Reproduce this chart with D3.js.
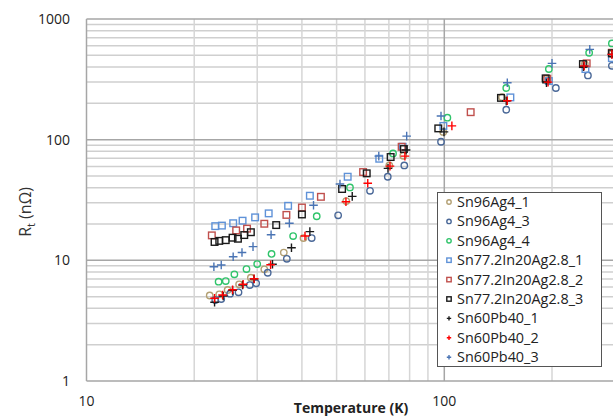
<!DOCTYPE html>
<html>
<head>
<meta charset="utf-8">
<script src="https://cdn.jsdelivr.net/npm/d3@7"></script>
<style>
  body { margin: 0; background: #fff; overflow: hidden; }
  svg { display: block; }
  text { font-family: "Open Sans", "Noto Sans", sans-serif; }
</style>
</head>
<body>
<script>
// temperatures (K) and resistances (nOhm) per sample
var sn96ag4_1_T = [22.1, 23.5, 24.8, 26.7, 28.8, 31.4, 35.6, 40.4, 53.2, 70.2, 76.8, 99.3, 145, 192, 247, 294];
var sn96ag4_1_R = [5.11, 5.23, 5.68, 6.33, 7.18, 8.42, 11.6, 15.3, 31.0, 61.2, 73.6, 116, 225, 318, 423, 512];

var sn96ag4_3_T = [22.9, 23.8, 25.2, 26.6, 28.6, 29.8, 32.1, 36.3, 42.6, 50.5, 62.0, 69.5, 77.3, 97.9, 149, 205, 252, 294];
var sn96ag4_3_R = [4.69, 4.78, 5.29, 5.43, 6.24, 6.45, 7.89, 10.3, 15.3, 23.6, 37.7, 49.3, 61.2, 96.1, 177, 268, 341, 409];

var sn96ag4_4_T = [23.4, 24.5, 25.9, 28.0, 30.0, 32.9, 37.8, 44.0, 54.5, 71.9, 102, 149, 196, 254, 294];
var sn96ag4_4_R = [6.65, 6.73, 7.66, 8.47, 9.31, 11.3, 15.9, 23.2, 40.2, 76.9, 152, 268, 385, 525, 628];

var sn77_1_T = [22.9, 23.9, 25.7, 27.3, 29.6, 32.3, 36.6, 42.1, 53.7, 65.8, 76.5, 99.4, 153, 196, 248, 294];
var sn77_1_R = [19.2, 19.4, 20.3, 21.3, 22.7, 24.5, 28.3, 34.3, 49.3, 69.5, 87.3, 130, 224, 306, 385, 474];

var sn77_2_T = [22.4, 26.2, 28.1, 31.4, 36.2, 40.0, 45.2, 59.3, 76.0, 118.5, 194, 250, 294];
var sn77_2_R = [16.1, 17.7, 18.3, 20.1, 23.8, 27.4, 33.6, 53.9, 87.3, 169, 320, 429, 525];

var sn77_3_T = [22.8, 23.5, 24.5, 25.6, 26.5, 27.6, 28.8, 33.9, 40.0, 51.8, 60.7, 70.8, 77.1, 96.2, 144, 192, 244, 294];
var sn77_3_R = [14.2, 14.5, 14.7, 15.4, 15.1, 16.2, 17.1, 19.6, 24.0, 39.0, 52.6, 71.8, 83.6, 124, 222, 322, 423, 519];

var sn60pb40_1_T = [22.8, 24.1, 25.6, 27.3, 29.4, 33.1, 37.4, 42.1, 55.3, 69.6, 78.2, 99.8, 149, 193, 245, 294];
var sn60pb40_1_R = [4.49, 5.06, 5.64, 6.24, 7.0, 9.27, 12.7, 17.3, 33.9, 57.8, 82.0, 116, 209, 296, 402, 512];

var sn60pb40_2_T = [22.8, 24.0, 25.6, 27.4, 29.4, 32.7, 40.8, 53.1, 61.1, 70.5, 77.6, 105, 150, 195, 246, 294];
var sn60pb40_2_R = [4.85, 5.16, 5.71, 6.33, 7.04, 9.2, 15.9, 30.6, 43.5, 60.4, 73.1, 130, 210, 300, 409, 509];

var sn60pb40_3_T = [22.7, 23.8, 25.7, 27.2, 29.2, 32.8, 36.9, 43.1, 51.1, 65.6, 78.5, 97.9, 150, 200, 255];
var sn60pb40_3_R = [8.85, 9.15, 10.7, 11.6, 13.0, 16.3, 20.3, 28.6, 42.9, 73.1, 107, 157, 296, 429, 560];

var seriesNames = ['Sn96Ag4_1', 'Sn96Ag4_3', 'Sn96Ag4_4', 'Sn77.2In20Ag2.8_1', 'Sn77.2In20Ag2.8_2',
  'Sn77.2In20Ag2.8_3', 'Sn60Pb40_1', 'Sn60Pb40_2', 'Sn60Pb40_3'];
var seriesT = [sn96ag4_1_T, sn96ag4_3_T, sn96ag4_4_T, sn77_1_T, sn77_2_T, sn77_3_T, sn60pb40_1_T, sn60pb40_2_T, sn60pb40_3_T];
var seriesR = [sn96ag4_1_R, sn96ag4_3_R, sn96ag4_4_R, sn77_1_R, sn77_2_R, sn77_3_R, sn60pb40_1_R, sn60pb40_2_R, sn60pb40_3_R];
var seriesShape = ['circle', 'circle', 'circle', 'square', 'square', 'square', 'plus', 'plus', 'plus'];
var seriesColor = ['#b3a073', '#4a6898', '#2fc46a', '#5f92d8', '#c0504d', '#1a1a1a', '#1a1a1a', '#ff0000', '#4a74b4'];

var xTicks = [10, 100, 1000];
var xTickLabels = [10, 100];
var yTicks = [1, 10, 100, 1000];

var W = 613, H = 417;
var svg = d3.select('body').append('svg')
  .attr('width', W)
  .attr('height', H);

// plot runs past the right edge of the picture, like the cropped original
var x = d3.scaleLog().domain([10, 1000]).range([86.5, 86.5 + 2 * 357.8]);
var y = d3.scaleLog().domain([1, 1000]).range([381, 19]);

var minor = function(lo, hi) {
  var out = [];
  for (var d = lo; d < hi; d *= 10) {
    for (var k = 2; k <= 9; k++) out.push(d * k);
  }
  return out;
};

var grid = svg.append('g');

grid.selectAll('.hmin').data(minor(1, 1000)).enter().append('line')
  .attr('x1', x(10)).attr('x2', W)
  .attr('y1', function(d) { return y(d); })
  .attr('y2', function(d) { return y(d); })
  .attr('stroke', '#cfcfcf').attr('stroke-width', 1.5);

grid.selectAll('.vmin').data(minor(10, 1000)).enter().append('line')
  .attr('y1', y(1)).attr('y2', y(1000))
  .attr('x1', function(d) { return x(d); })
  .attr('x2', function(d) { return x(d); })
  .attr('stroke', '#d6d6d6').attr('stroke-width', 1.5);

grid.selectAll('.hmaj').data(yTicks).enter().append('line')
  .attr('x1', x(10)).attr('x2', W)
  .attr('y1', function(d) { return y(d); })
  .attr('y2', function(d) { return y(d); })
  .attr('stroke', '#a6a6a6').attr('stroke-width', 1.5);

grid.selectAll('.vmaj').data(xTicks).enter().append('line')
  .attr('y1', y(1)).attr('y2', y(1000))
  .attr('x1', function(d) { return x(d); })
  .attr('x2', function(d) { return x(d); })
  .attr('stroke', '#a6a6a6').attr('stroke-width', 1.5);

// tick labels
svg.selectAll('.ylab').data(yTicks).enter().append('text')
  .attr('x', 70)
  .attr('y', function(d) { return y(d) + 5; })
  .attr('text-anchor', 'end')
  .attr('font-size', 14)
  .attr('fill', '#222')
  .text(function(d) { return d; });

svg.selectAll('.xlab').data(xTickLabels).enter().append('text')
  .attr('x', function(d) { return x(d); })
  .attr('y', 406)
  .attr('text-anchor', 'middle')
  .attr('font-size', 14)
  .attr('fill', '#222')
  .text(function(d) { return d; });

// axis titles
svg.append('text')
  .attr('x', 351).attr('y', 413)
  .attr('text-anchor', 'middle')
  .attr('font-size', 14)
  .attr('font-weight', 'bold')
  .attr('fill', '#222')
  .text('Temperature (K)');

var yt = svg.append('text')
  .attr('transform', 'translate(31,212) rotate(-90)')
  .attr('text-anchor', 'middle')
  .attr('font-size', 16)
  .attr('fill', '#333');
yt.append('tspan').text('R');
yt.append('tspan').attr('font-size', 11).attr('dy', 4).text('t');
yt.append('tspan').attr('dy', -4).text(' (n\u03a9)');

var drawMarker = function(g, shape, color, size) {
  if (shape === 'circle') {
    g.append('circle').attr('r', size).attr('fill', 'none')
      .attr('stroke', color).attr('stroke-width', 1.4);
  } else if (shape === 'square') {
    g.append('rect').attr('x', -size).attr('y', -size)
      .attr('width', size * 2).attr('height', size * 2)
      .attr('fill', 'none').attr('stroke', color).attr('stroke-width', 1.4);
  } else {
    g.append('path').attr('d', 'M' + (-size) + ',0H' + size + 'M0,' + (-size) + 'V' + size)
      .attr('fill', 'none').attr('stroke', color).attr('stroke-width', 1.4);
  }
};

var sizes = { circle: 3.2, square: 3.3, plus: 4.3 };

seriesNames.forEach(function(name, i) {
  var pts = seriesT[i].map(function(t, j) { return [t, seriesR[i][j]]; });
  var g = svg.append('g').attr('class', 'series');
  g.selectAll('g').data(pts).enter().append('g')
    .attr('transform', function(d) { return 'translate(' + x(d[0]) + ',' + y(d[1]) + ')'; })
    .each(function() { drawMarker(d3.select(this), seriesShape[i], seriesColor[i], sizes[seriesShape[i]]); });
});

// legend
var leg = svg.append('g');
leg.append('rect')
  .attr('x', 437.5).attr('y', 192.5)
  .attr('width', 164).attr('height', 174)
  .attr('fill', '#fff').attr('stroke', '#555').attr('stroke-width', 1);

seriesNames.forEach(function(name, i) {
  var cy = 202 + i * 19.4;
  var m = leg.append('g').attr('transform', 'translate(449,' + cy + ')');
  drawMarker(m, seriesShape[i], seriesColor[i], 2.2);
  leg.append('text')
    .attr('x', 457).attr('y', cy + 5)
    .attr('font-size', 14.4)
    .attr('fill', '#222')
    .text(name);
});
</script>
</body>
</html>
